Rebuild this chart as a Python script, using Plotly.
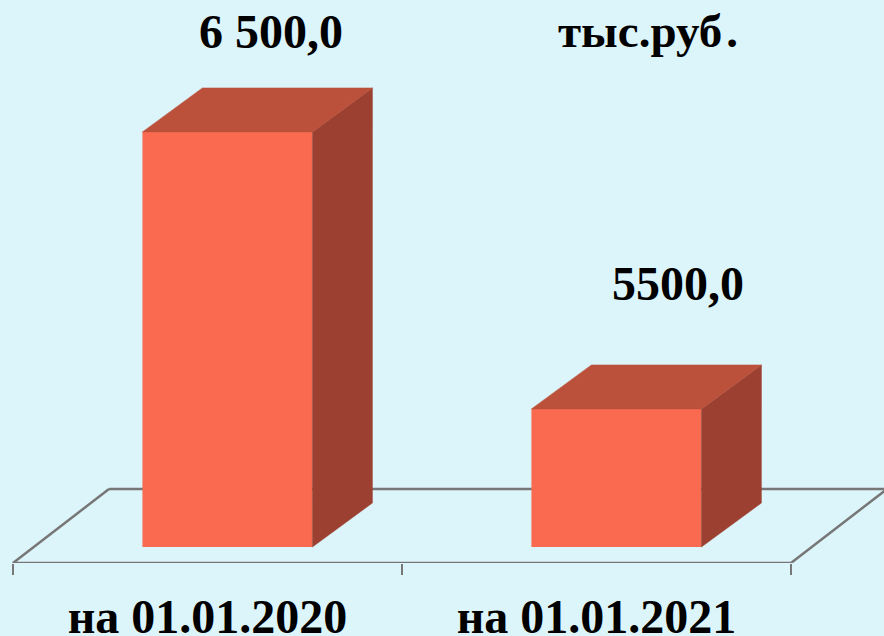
import plotly.graph_objects as go

categories = ["на 01.01.2020", "на 01.01.2021"]
values = [6500.0, 5500.0]
value_labels = ["6 500,0", "5500,0"]
unit_label = "тыс.руб\u200a."

BG = "#DCF5FA"
FRONT = "#F96A50"
TOP = "#BB513B"
SIDE = "#9C4132"
GRID = "#777777"
SERIF = "Liberation Serif"

PX_X = 389.0      # pixels per category
PX_V = 0.277      # pixels per value unit
BASE = 5001.5
SHIFT = 0.0512
BAR_W = 170 / PX_X
DX = 60 / PX_X
DV = 44 / PX_V
FLOOR_FRONT = BASE - 16 / PX_V
FLOOR_BACK = BASE + 58 / PX_V
FLOOR_DX = 96 / PX_X
X0 = -0.5
X1 = 1.5

fig = go.Figure()


def poly(xs, ys, color):
    fig.add_trace(go.Scatter(x=xs, y=ys, mode="lines", fill="toself", fillcolor=color,
                             line=dict(color=color, width=0.5), hoverinfo="skip",
                             showlegend=False, cliponaxis=False))


# floor outline: the front and side edges; the back edge is a shape below the columns
fig.add_trace(go.Scatter(
    x=[X0 + FLOOR_DX, X0, X1, X1 + FLOOR_DX],
    y=[FLOOR_BACK, FLOOR_FRONT, FLOOR_FRONT, FLOOR_BACK],
    mode="lines", line=dict(color=GRID, width=2.5), hoverinfo="skip",
    showlegend=False, cliponaxis=False))

# front faces
fig.add_trace(go.Bar(x=[i + SHIFT for i in range(len(values))],
                     y=[v - BASE for v in values], base=BASE, width=BAR_W,
                     marker=dict(color=FRONT, line=dict(width=0)), showlegend=False))

# side and top faces of each column
for i, v in enumerate(values):
    left = i + SHIFT - BAR_W / 2
    right = i + SHIFT + BAR_W / 2
    poly([right, right + DX, right + DX, right, right],
         [BASE, BASE + DV, v + DV, v, BASE], SIDE)
    poly([left, right, right + DX, left + DX, left],
         [v, v, v + DV, v + DV, v], TOP)

text_font = dict(family=SERIF, size=48, color="#000000")
label_offsets = [(0.162, BASE + (547 - 31) / PX_V), (1.21, BASE + (547 - 283) / PX_V)]
annotations = [dict(x=pos[0], y=pos[1], xref="x", yref="y", text=f"<b>{lab}</b>", showarrow=False,
                    font=text_font, xanchor="center", yanchor="middle")
               for lab, pos in zip(value_labels, label_offsets)]
annotations.append(dict(x=(647.5 - 207.5) / PX_X, y=BASE + (547 - 31) / PX_V, xref="x", yref="y",
                        text=f"<b>{unit_label}</b>", showarrow=False,
                        font=dict(family=SERIF, size=47, color="#000000"),
                        xanchor="center", yanchor="middle"))

fig.update_layout(
    width=884, height=636, autosize=False,
    margin=dict(l=0, r=0, t=0, b=73, pad=0),
    paper_bgcolor=BG, plot_bgcolor=BG, showlegend=False,
    annotations=annotations,
    shapes=[dict(type="line", xref="x", yref="y", layer="below",
                 x0=X0 + FLOOR_DX, x1=X1 + FLOOR_DX, y0=FLOOR_BACK, y1=FLOOR_BACK,
                 line=dict(color=GRID, width=2.5))],
    xaxis=dict(range=[-207.5 / PX_X, (884 - 207.5) / PX_X], tickvals=[0, 1], ticktext=categories,
               ticks="", showgrid=False, zeroline=False, showline=False, automargin=False,
               tickfont=dict(family=SERIF, size=48, color="#000000", weight="bold"), ticklabelstandoff=21,
               minor=dict(tickvals=[-0.5, 0.5, 1.5], ticks="outside", ticklen=11, tickwidth=2,
                          tickcolor=GRID, showgrid=False)),
    yaxis=dict(range=[FLOOR_FRONT, FLOOR_FRONT + 563 / PX_V], visible=False),
)
fig.write_html("out.html", config={"displayModeBar": False},
               post_script="document.body.style.margin='0';document.body.style.background='" + BG + "';")
